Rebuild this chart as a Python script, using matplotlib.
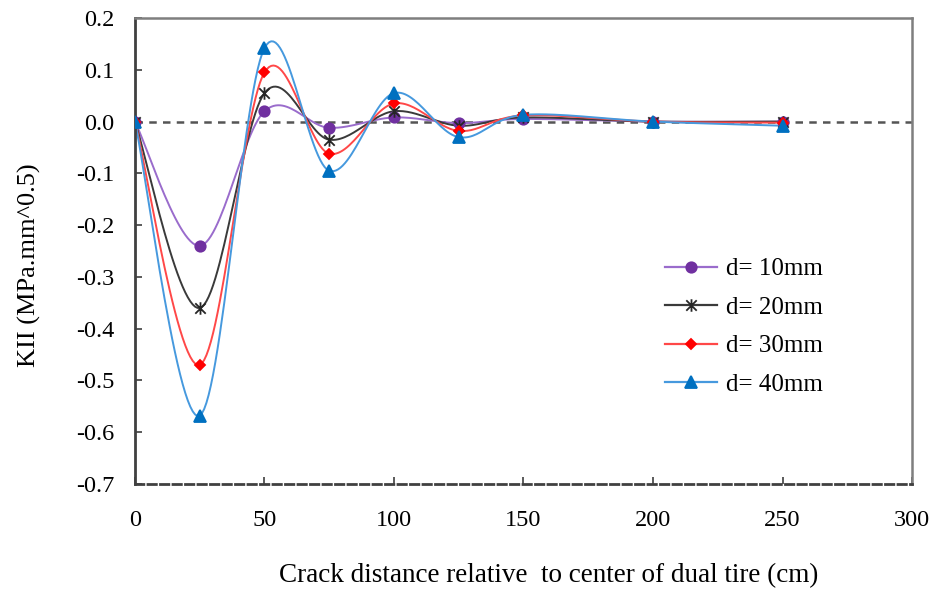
import numpy as np
import matplotlib
matplotlib.use('Agg')
import matplotlib.pyplot as plt
from matplotlib.path import Path

# Data
x_cm = [0, 25, 50, 75, 100, 125, 150, 200, 250]
kii_d10 = [0.0, -0.24, 0.02, -0.012, 0.008, -0.003, 0.005, 0.0, 0.0]
kii_d20 = [0.0, -0.36, 0.055, -0.035, 0.02, -0.008, 0.008, 0.0, 0.0]
kii_d30 = [0.0, -0.47, 0.095, -0.062, 0.035, -0.018, 0.012, 0.0, -0.002]
kii_d40 = [0.0, -0.568, 0.142, -0.095, 0.055, -0.03, 0.013, 0.0, -0.008]
labels = ['d= 10mm', 'd= 20mm', 'd= 30mm', 'd= 40mm']
x_ticks = [0, 50, 100, 150, 200, 250, 300]
y_ticks = [0.2, 0.1, 0.0, -0.1, -0.2, -0.3, -0.4, -0.5, -0.6, -0.7]


def smooth(xs, ys, n=30):
    # Excel-style smoothed line: Catmull-Rom / Bezier segments through the points
    xs = np.asarray(xs, float)
    ys = np.asarray(ys, float)
    px = np.concatenate([[xs[0]], xs, [xs[-1]]])
    py = np.concatenate([[ys[0]], ys, [ys[-1]]])
    out_x, out_y = [], []
    t = np.linspace(0, 1, n)
    for i in range(1, len(px) - 2):
        p0, p1, p2, p3 = px[i - 1], px[i], px[i + 1], px[i + 2]
        q0, q1, q2, q3 = py[i - 1], py[i], py[i + 1], py[i + 2]
        c1x, c1y = p1 + (p2 - p0) / 6, q1 + (q2 - q0) / 6
        c2x, c2y = p2 - (p3 - p1) / 6, q2 - (q3 - q1) / 6
        bx = (1 - t)**3 * p1 + 3 * (1 - t)**2 * t * c1x + 3 * (1 - t) * t**2 * c2x + t**3 * p2
        by = (1 - t)**3 * q1 + 3 * (1 - t)**2 * t * c1y + 3 * (1 - t) * t**2 * c2y + t**3 * q2
        out_x.extend(bx)
        out_y.extend(by)
    return np.array(out_x), np.array(out_y)


# Excel "star" marker: an X with a vertical bar
star = Path([(-1, -1), (1, 1), (-1, 1), (1, -1), (0, -1.2), (0, 1.2)],
            [Path.MOVETO, Path.LINETO, Path.MOVETO, Path.LINETO, Path.MOVETO, Path.LINETO])

plt.rcParams['font.family'] = ['Liberation Serif', 'DejaVu Serif']

fig = plt.figure(figsize=(9.38, 5.93), dpi=100)
ax = fig.add_axes([0.1439, 0.1838, 0.8284, 0.7858])

series = [kii_d10, kii_d20, kii_d30, kii_d40]
line_colors = ['#9a6ccc', '#3a3a3a', '#ff4848', '#4699de']
marker_colors = ['#7030a0', '#262626', '#ff0000', '#0070c0']
markers = ['o', star, 'D', '^']
msizes = [7.5, 9, 5.5, 8.5]

ax.axhline(0, color='#555555', lw=1.8, ls=(0, (3, 2.5)), zorder=1)

for ys, lc, mc, m, ms, lab in zip(series, line_colors, marker_colors, markers, msizes, labels):
    sx, sy = smooth(x_cm, ys)
    ax.plot(sx, sy, color=lc, lw=1.4, zorder=2)
    ax.plot(x_cm, ys, ls='none', marker=m, ms=ms, color=mc, mew=1.3, zorder=3)
    ax.plot([], [], color=lc, lw=1.6, marker=m, ms=ms, mfc=mc, mec=mc, mew=1.3, label=lab)

ax.set_xlim(0, 300)
ax.set_ylim(-0.7, 0.2)
ax.set_xticks(x_ticks)
ax.set_yticks(y_ticks)
ax.set_yticklabels(['%.1f' % v for v in y_ticks])
ax.tick_params(direction='in', length=5, width=1.2, labelsize=17.5, color='#404040')
ax.tick_params(axis='x', pad=19)
ax.tick_params(axis='y', pad=15)

for side in ['top', 'right']:
    ax.spines[side].set_color('#7f7f7f')
    ax.spines[side].set_linewidth(1.8)
ax.spines['left'].set_color('#404040')
ax.spines['left'].set_linewidth(2)
ax.spines['bottom'].set_color('#404040')
ax.spines['bottom'].set_linewidth(2)
ax.spines['bottom'].set_linestyle((0, (3, 1.5)))

ax.set_xlabel('Crack distance relative  to center of dual tire (cm)', fontsize=19.5, labelpad=23)
ax.xaxis.label.set_x(0.533)
ax.set_ylabel('KII (MPa.mm^0.5)', fontsize=19, labelpad=25)
ax.yaxis.label.set_y(0.47)

ax.legend(loc='center left', bbox_to_anchor=(0.682, 0.337), frameon=False, fontsize=18,
          handlelength=2.1, labelspacing=0.64, handletextpad=0.35,
          borderaxespad=0, borderpad=0)

fig.savefig('out.png', dpi=100)
